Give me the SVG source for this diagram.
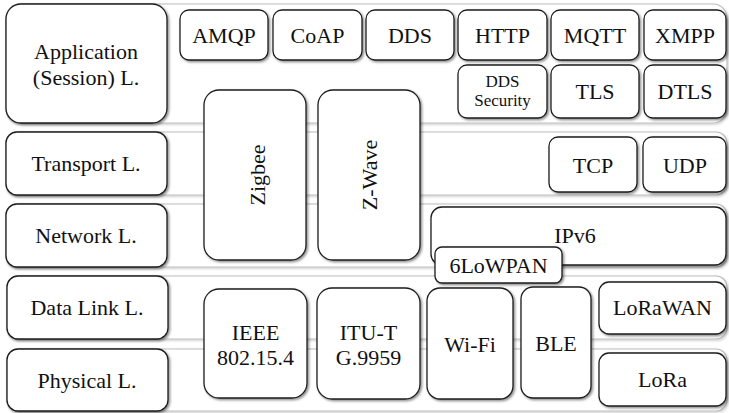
<svg xmlns="http://www.w3.org/2000/svg" width="729" height="413" viewBox="0 0 729 413">
<defs>
<filter id="sh" x="-10%" y="-10%" width="125%" height="130%">
<feDropShadow dx="1.5" dy="1.5" stdDeviation="1.3" flood-color="#000" flood-opacity="0.45"/>
</filter>
<filter id="bsh" x="-5%" y="-10%" width="110%" height="130%">
<feDropShadow dx="1" dy="1.2" stdDeviation="1" flood-color="#000" flood-opacity="0.2"/>
</filter>
</defs>
<style>
.band{fill:#fff;stroke:#bdbdbd;stroke-width:1.2;filter:url(#bsh)}
.box{fill:#fff;stroke:#1e1e1e;stroke-width:1.3;filter:url(#sh)}
text{font-family:'Liberation Serif','DejaVu Serif','Noto Serif',Tinos,'Times New Roman',Times,'Nimbus Roman','Nimbus Roman No9 L',FreeSerif,'Latin Modern Roman','CMU Serif',Georgia,serif;font-size:22px;fill:#111;text-anchor:middle}
.sm{font-size:17px}
</style>
<rect width="729" height="413" fill="#fff"/>
<g id="bands">
<rect class="band" x="6" y="4" width="721" height="119" rx="14"/>
<rect class="band" x="6" y="132" width="721" height="63" rx="11"/>
<rect class="band" x="6" y="204" width="721" height="63" rx="11"/>
<rect class="band" x="7" y="276" width="720" height="63" rx="11"/>
<rect class="band" x="7" y="349" width="720" height="62" rx="11"/>
</g>
<g id="layer-application"><rect class="box" x="6" y="4" width="161" height="119" rx="15"/><text x="86" y="59">Application</text><text x="86" y="85">(Session) L.</text></g>
<g id="layer-transport"><rect class="box" x="6" y="132" width="161" height="63" rx="11"/><text x="86" y="171">Transport L.</text></g>
<g id="layer-network"><rect class="box" x="6" y="204" width="161" height="63" rx="11"/><text x="86" y="243">Network L.</text></g>
<g id="layer-datalink"><rect class="box" x="7" y="276" width="161" height="63" rx="11"/><text x="87" y="315">Data Link L.</text></g>
<g id="layer-physical"><rect class="box" x="7" y="349" width="161" height="62" rx="11"/><text x="87" y="388">Physical L.</text></g>

<g id="amqp"><rect class="box" x="180" y="10" width="88" height="50" rx="9"/><text x="224" y="43">AMQP</text></g>
<g id="coap"><rect class="box" x="273" y="10" width="89" height="50" rx="9"/><text x="317.5" y="43">CoAP</text></g>
<g id="dds"><rect class="box" x="366" y="10" width="88" height="50" rx="9"/><text x="410" y="43">DDS</text></g>
<g id="http"><rect class="box" x="458" y="10" width="89" height="50" rx="9"/><text x="502.5" y="43">HTTP</text></g>
<g id="mqtt"><rect class="box" x="551" y="10" width="88" height="50" rx="9"/><text x="595" y="43">MQTT</text></g>
<g id="xmpp"><rect class="box" x="644" y="10" width="82" height="50" rx="9"/><text x="685" y="43">XMPP</text></g>

<g id="dds-security"><rect class="box" x="458" y="65" width="89" height="53" rx="9"/><text class="sm" x="502.5" y="87">DDS</text><text class="sm" x="502.5" y="106">Security</text></g>
<g id="tls"><rect class="box" x="551" y="65" width="88" height="53" rx="9"/><text x="595" y="99">TLS</text></g>
<g id="dtls"><rect class="box" x="644" y="65" width="82" height="53" rx="9"/><text x="685" y="99">DTLS</text></g>

<g id="zigbee"><rect class="box" x="204" y="90" width="102" height="170" rx="15"/><text transform="translate(257,175) rotate(-90)" x="0" y="8">Zigbee</text></g>
<g id="zwave"><rect class="box" x="318" y="90" width="102" height="170" rx="15"/><text transform="translate(369,175) rotate(-90)" x="0" y="8">Z-Wave</text></g>

<g id="tcp"><rect class="box" x="549" y="137" width="88" height="55" rx="9"/><text x="593" y="173">TCP</text></g>
<g id="udp"><rect class="box" x="643" y="137" width="83" height="55" rx="9"/><text x="685" y="173">UDP</text></g>

<g id="ipv6"><rect class="box" x="431" y="207" width="295" height="58" rx="11"/><text x="575" y="243">IPv6</text></g>
<g id="sixlowpan"><rect class="box" x="435" y="247" width="127" height="36" rx="7"/><text x="498.5" y="273">6LoWPAN</text></g>

<g id="ieee802154"><rect class="box" x="204" y="289" width="103" height="109" rx="15"/><text x="255.5" y="340">IEEE</text><text x="255.5" y="365">802.15.4</text></g>
<g id="itut-g9959"><rect class="box" x="317" y="288" width="103" height="111" rx="15"/><text x="368.5" y="340">ITU-T</text><text x="368.5" y="365">G.9959</text></g>
<g id="wifi"><rect class="box" x="427" y="288" width="86" height="111" rx="13"/><text x="470" y="352">Wi-Fi</text></g>
<g id="ble"><rect class="box" x="521" y="287" width="70" height="111" rx="12"/><text x="556" y="351">BLE</text></g>
<g id="lorawan"><rect class="box" x="599" y="282" width="127" height="52" rx="10"/><text x="662.5" y="315">LoRaWAN</text></g>
<g id="lora"><rect class="box" x="599" y="353" width="127" height="53" rx="10"/><text x="662.5" y="387">LoRa</text></g>
<g id="connectors"></g>
</svg>
